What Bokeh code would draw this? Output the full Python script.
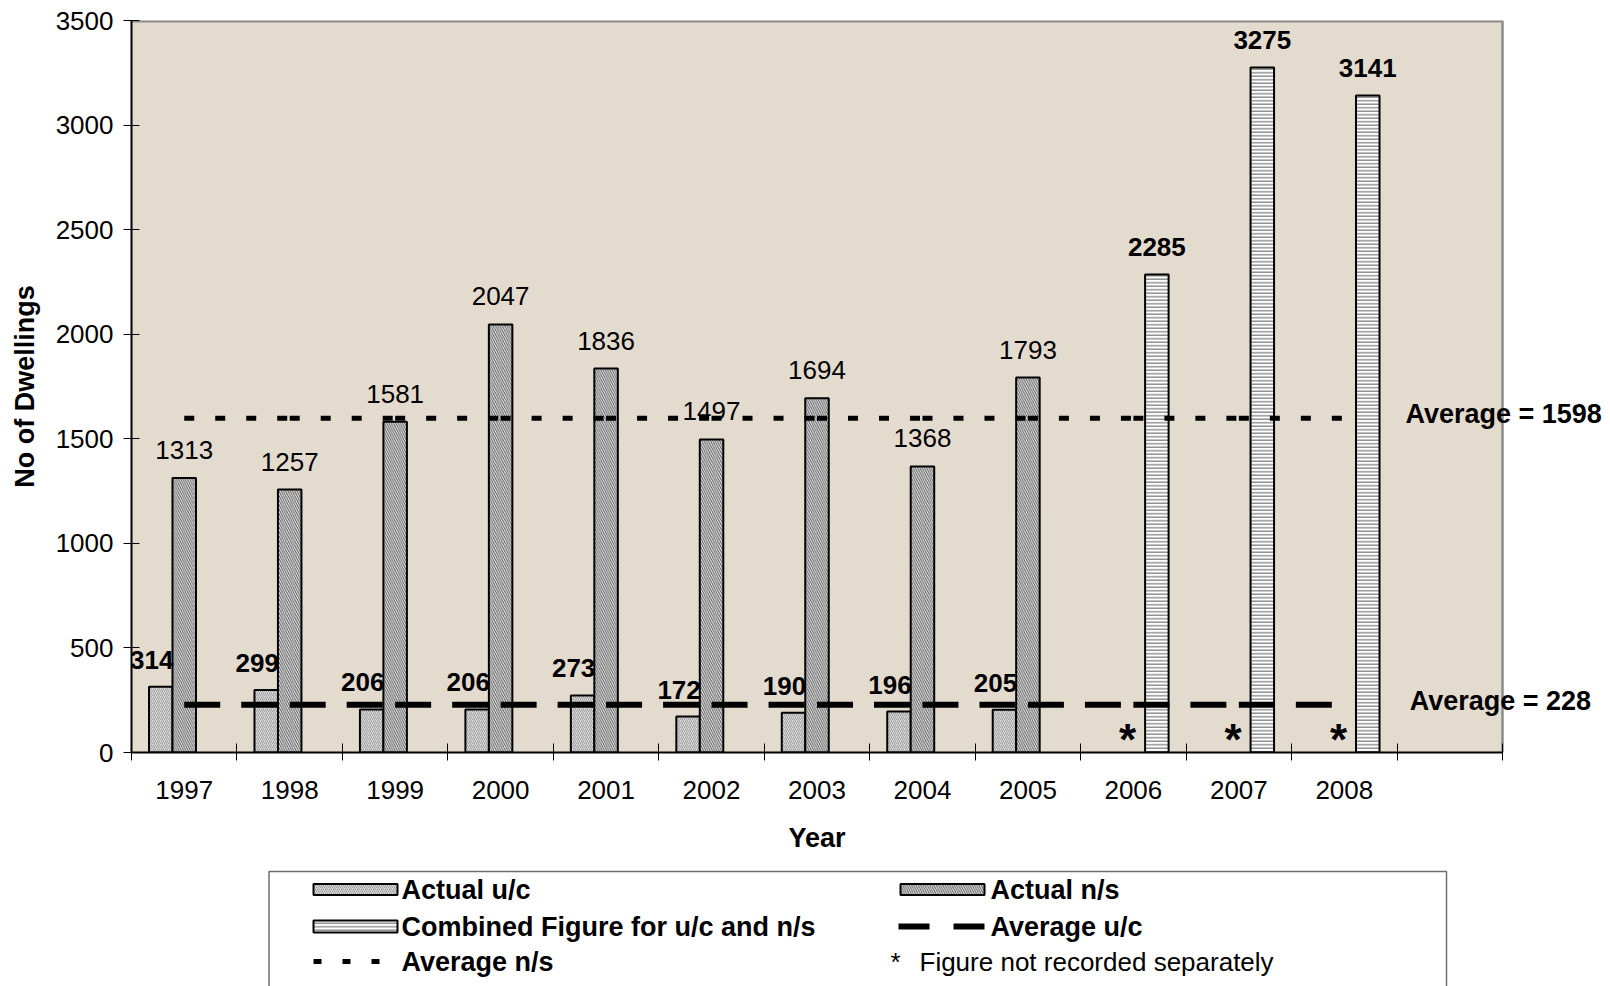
import numpy as np
from bokeh.plotting import figure
from bokeh.models import Range1d, FixedTicker
from bokeh.layouts import column
from bokeh.core.properties import value
from bokeh.embed import file_html
from bokeh.resources import INLINE

# ---------------- data ----------------
years = ["1997", "1998", "1999", "2000", "2001", "2002", "2003", "2004",
         "2005", "2006", "2007", "2008"]
actual_uc_years = ["1997", "1998", "1999", "2000", "2001", "2002", "2003", "2004", "2005"]
actual_uc = [314, 299, 206, 206, 273, 172, 190, 196, 205]
actual_ns_years = ["1997", "1998", "1999", "2000", "2001", "2002", "2003", "2004", "2005"]
actual_ns = [1313, 1257, 1581, 2047, 1836, 1497, 1694, 1368, 1793]
combined_years = ["2006", "2007", "2008"]
combined = [2285, 3275, 3141]
not_recorded_years = ["2006", "2007", "2008"]
avg_uc = 228
avg_ns = 1598
y_ticks = [0, 500, 1000, 1500, 2000, 2500, 3000, 3500]
n_slots = 13  # 12 years + one empty slot on the right

FONT = "Liberation Sans"
FS = "26px"
FSB = "27px"

W = 1606
FRAME_L = 131
FRAME_W = 1371
SLOT = FRAME_W / n_slots
X_START = -0.5
X_END = X_START + (W - FRAME_L) / SLOT

pos = {y: i for i, y in enumerate(years)}
BW = 0.2229
OFF = 0.2225

uc_x = [pos[y] - OFF for y in actual_uc_years]
ns_x = [pos[y] for y in actual_ns_years]
cb_x = [pos[y] + OFF for y in combined_years]
idx = [pos[y] for y in years]
slot_lo, slot_hi = X_START, X_START + n_slots

MAIN_H = 812
p = figure(width=W, height=MAIN_H, x_range=Range1d(X_START, X_END), y_range=Range1d(0, 3500),
           output_backend="svg", toolbar_location=None,
           min_border_left=FRAME_L, min_border_right=0, min_border_top=20,
           min_border_bottom=MAIN_H - 752)
p.background_fill_color = "white"
p.border_fill_color = "white"
p.outline_line_color = None
p.xgrid.visible = False
p.ygrid.visible = False

# plot-area background and its grey border
p.quad(left=[slot_lo], right=[slot_hi], bottom=[0], top=[3500], fill_color="#e4dbcf", line_color=None)
p.segment(x0=[slot_lo], x1=[slot_hi], y0=[3500], y1=[3500], line_color="#8c8c8c", line_width=4)
p.segment(x0=[slot_hi], x1=[slot_hi], y0=[0], y1=[3500], line_color="#8c8c8c", line_width=2.5)

# bars
bar_line = dict(line_color="black", line_width=2)
uc_style = dict(fill_color="#d8d8d8", hatch_pattern="right_diagonal_line", hatch_color="#a0a0a0",
                hatch_scale=4, hatch_weight=1)
ns_style = dict(fill_color="#f2f2f2", hatch_pattern="left_diagonal_line", hatch_color="#555555",
                hatch_scale=4.5, hatch_weight=1)
cb_style = dict(fill_color="white", hatch_pattern="horizontal_line", hatch_color="#8a8a8a",
                hatch_scale=3.5, hatch_weight=1.4)
p.vbar(x=uc_x, top=actual_uc, bottom=0, width=BW, **uc_style, **bar_line)
p.vbar(x=ns_x, top=actual_ns, bottom=0, width=BW, **ns_style, **bar_line)
p.vbar(x=cb_x, top=combined, bottom=0, width=BW, **cb_style, **bar_line)

# averages (dash restarts on each segment, as in the original)
nseg = len(idx) - 1
p.segment(x0=idx[:-1], x1=idx[1:], y0=[avg_ns] * nseg, y1=[avg_ns] * nseg,
          line_color="black", line_width=5, line_dash="10 21")
p.segment(x0=idx[:-1], x1=idx[1:], y0=[avg_uc] * nseg, y1=[avg_uc] * nseg,
          line_color="black", line_width=6, line_dash="36 21")

# data labels
lab = dict(text_font=value(FONT), text_font_size=value(FS), text_color="black",
           text_align="center", text_baseline="middle")
p.text(x=uc_x, y=actual_uc, text=[str(v) for v in actual_uc], text_font_style=value("bold"),
       y_offset=-27, x_offset=-9, **lab)
p.text(x=ns_x, y=actual_ns, text=[str(v) for v in actual_ns], text_font_style=value("normal"),
       y_offset=-28, **lab)
p.text(x=cb_x, y=combined, text=[str(v) for v in combined], text_font_style=value("bold"),
       y_offset=-28, **lab)

# asterisks: not recorded separately
p.text(x=[pos[y] - 0.055 for y in not_recorded_years], y=[0] * len(not_recorded_years),
       text=["*"] * len(not_recorded_years), text_font=value(FONT), text_font_size=value("44px"),
       text_font_style=value("bold"), text_color="black", text_align="center",
       text_baseline="alphabetic", y_offset=-13)

# average labels
avg_x = slot_hi - 0.92
p.text(x=[avg_x, avg_x + 0.04], y=[avg_ns, avg_uc],
       text=[f"Average = {avg_ns}", f"Average = {avg_uc}"], text_font=value(FONT),
       text_font_size=value(FSB), text_font_style=value("bold"), text_color="black",
       text_align="left", text_baseline="middle", y_offset=-4)

# axes
p.xaxis.ticker = FixedTicker(ticks=idx, minor_ticks=[X_START + i for i in range(n_slots + 1)])
p.xaxis.bounds = (slot_lo, slot_hi)
p.xaxis.major_label_overrides = {pos[y]: y for y in years}
p.xaxis.major_tick_in = 0
p.xaxis.major_tick_out = 0
p.xaxis.minor_tick_in = 9
p.xaxis.minor_tick_out = 8
p.xaxis.minor_tick_line_color = "black"
p.xaxis.minor_tick_line_width = 1
p.xaxis.major_label_standoff = 20

p.yaxis.ticker = FixedTicker(ticks=y_ticks)
p.yaxis.major_tick_in = 8
p.yaxis.major_tick_out = 8
p.yaxis.major_tick_line_color = "black"
p.yaxis.minor_tick_line_color = None
p.yaxis.major_label_standoff = 10
p.yaxis.axis_label = "No of Dwellings"
p.yaxis.axis_label_standoff = 13

for ax in (p.xaxis, p.yaxis):
    ax.axis_line_color = "black"
    ax.axis_line_width = 2
    ax.major_label_text_font = FONT
    ax.major_label_text_font_size = FS
    ax.major_label_text_color = "black"
    ax.axis_label_text_font = FONT
    ax.axis_label_text_font_size = FSB
    ax.axis_label_text_font_style = "bold"
    ax.axis_label_text_color = "black"

# ---------------- x-axis title + legend panel (coordinates in page pixels) ----------------
LH = 986 - MAIN_H
L = figure(width=W, height=LH, x_range=Range1d(FRAME_L, W), y_range=Range1d(LH + MAIN_H, MAIN_H),
           output_backend="svg", toolbar_location=None, x_axis_type=None, y_axis_type=None,
           min_border_left=FRAME_L, min_border_right=0, min_border_top=0, min_border_bottom=0)
L.outline_line_color = None
L.background_fill_color = "white"
L.border_fill_color = "white"
L.xgrid.visible = False
L.ygrid.visible = False

# x-axis title, centred under the category slots
L.text(x=[FRAME_L + FRAME_W / 2], y=[837], text=["Year"], text_font=value(FONT),
       text_font_size=value(FSB), text_font_style=value("bold"), text_color="black",
       text_align="center", text_baseline="middle")

L.quad(left=[268.5], right=[1446], top=[871], bottom=[1010], fill_color="white",
       line_color="#6e6e6e", line_width=1.5)

r1, r2, r3 = 889, 926, 961
c1, c2 = 313, 900
L.quad(left=[c1], right=[c1 + 84], top=[r1 - 5.5], bottom=[r1 + 5.5], **uc_style, **bar_line)
L.quad(left=[c2], right=[c2 + 84], top=[r1 - 5.5], bottom=[r1 + 5.5], **ns_style, **bar_line)
L.quad(left=[c1], right=[c1 + 84], top=[r2 - 6], bottom=[r2 + 6], **cb_style, **bar_line)
L.segment(x0=[c2 - 2], x1=[c2 + 86], y0=[r2], y1=[r2], line_color="black", line_width=6,
          line_dash="31 24")
L.segment(x0=[c1], x1=[c1 + 68], y0=[r3], y1=[r3], line_color="black", line_width=5,
          line_dash="8 21")

L.text(x=[c1 + 88, c2 + 90, c1 + 88, c2 + 90, c1 + 88],
       y=[r1, r1, r2, r2, r3],
       text=["Actual u/c", "Actual n/s", "Combined Figure for u/c and n/s", "Average u/c", "Average n/s"],
       text_font=value(FONT), text_font_size=value(FSB), text_font_style=value("bold"),
       text_color="black", text_align="left", text_baseline="middle")
L.text(x=[c2 - 10, c2 + 19], y=[r3, r3], text=["*", "Figure not recorded separately"],
       text_font=value(FONT), text_font_size=value(FS), text_font_style=value("normal"),
       text_color="black", text_align="left", text_baseline="middle")

layout = column(p, L, spacing=0)
open("out.html", "w").write(file_html(layout, INLINE))
